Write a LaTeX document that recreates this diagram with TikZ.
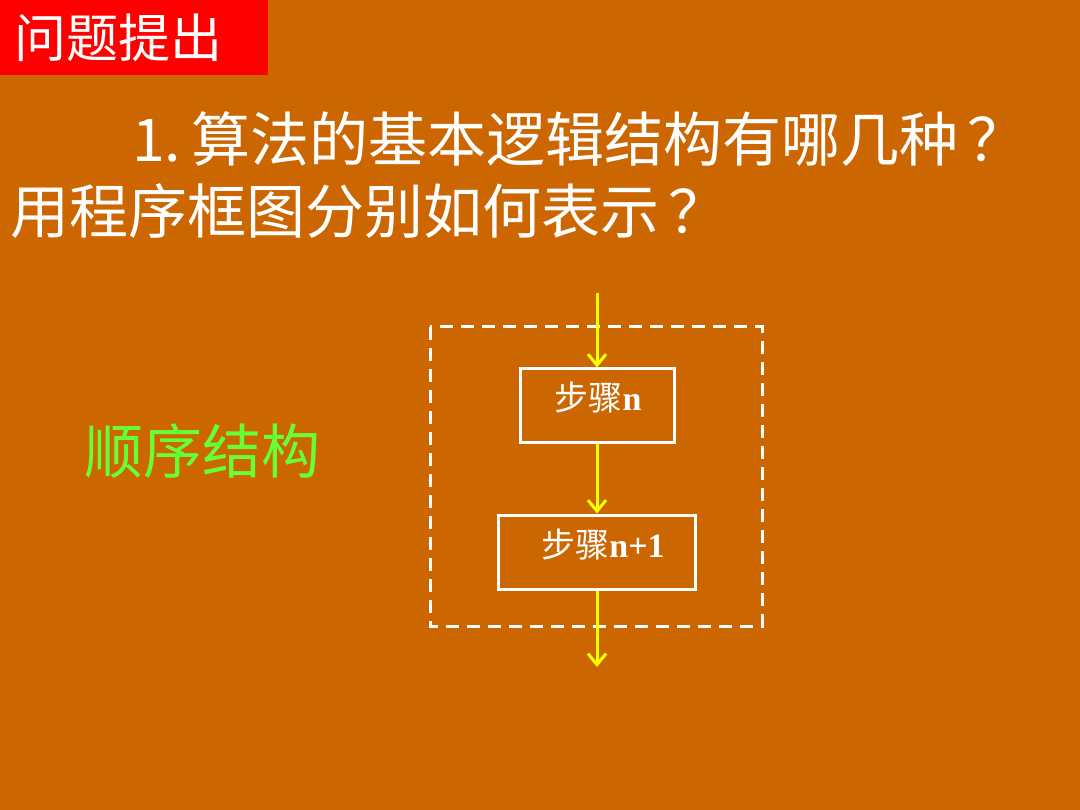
\documentclass[tikz,border=0pt]{standalone}
\usepackage{fontspec}
\newfontfamily\cjk{Noto Sans CJK SC}
\newfontfamily\serifbold{Liberation Serif}
\usetikzlibrary{arrows.meta}
\definecolor{bgorange}{HTML}{CC6600}
\definecolor{titlered}{HTML}{FF0000}
\definecolor{flowyellow}{HTML}{FFFF00}
\definecolor{labelgreen}{HTML}{66FF33}
\tikzset{
  stepbox/.style={draw=white, line width=3pt, minimum height=74pt, inner sep=0pt},
  steptext/.style={text=white, inner sep=0pt, font=\cjk\fontsize{34}{36}\selectfont},
  flowarrow/.style={draw=flowyellow, line width=3pt, -{Straight Barb[length=11pt,width=18pt,line width=3pt]}},
  framebox/.style={draw=white, line width=3pt, dash pattern=on 13pt off 8pt},
  bigtext/.style={text=white, inner sep=0pt, anchor=west, font=\cjk\fontsize{59}{61}\selectfont},
}
\begin{document}
\begin{tikzpicture}[x=1pt,y=-1pt]
\useasboundingbox (0,0) rectangle (1080,810);
\fill[bgorange] (0,0) rectangle (1080,810);
% title tab
\fill[titlered] (0,0) rectangle (268,75);
\node[text=white, inner sep=0pt, anchor=west, font=\cjk\fontsize{52}{54}\selectfont] (title) at (14,38) {问题提出};
% question
\node[bigtext] (q1) at (132,139) {1.\,算法的基本逻辑结构有哪几种\kern9pt？};
\node[bigtext] (q2) at (10,211) {用程序框图分别如何表示\kern9pt？};
% label
\node[text=labelgreen, inner sep=0pt, anchor=west, font=\cjk\fontsize{59}{61}\selectfont] (seq) at (84,451) {顺序结构};
% frame
\draw[framebox] (430,327) rectangle (762,626);
% boxes
\node[stepbox, minimum width=154pt] (s1) at (597,406) {};
\node[stepbox, minimum width=197pt] (s2) at (597,552) {};
\node[steptext] (t1) at (598,398) {步骤{\serifbold\bfseries n}};
\node[steptext] (t2) at (603,545) {步骤{\serifbold\bfseries n+1}};
% connectors
\coordinate (in) at (597,293);
\coordinate (out) at (597,667);
\draw[flowarrow] (in) -- (s1.north);
\draw[flowarrow] (s1.south) -- (s2.north);
\draw[flowarrow] (s2.south) -- (out);
\end{tikzpicture}
\end{document}
